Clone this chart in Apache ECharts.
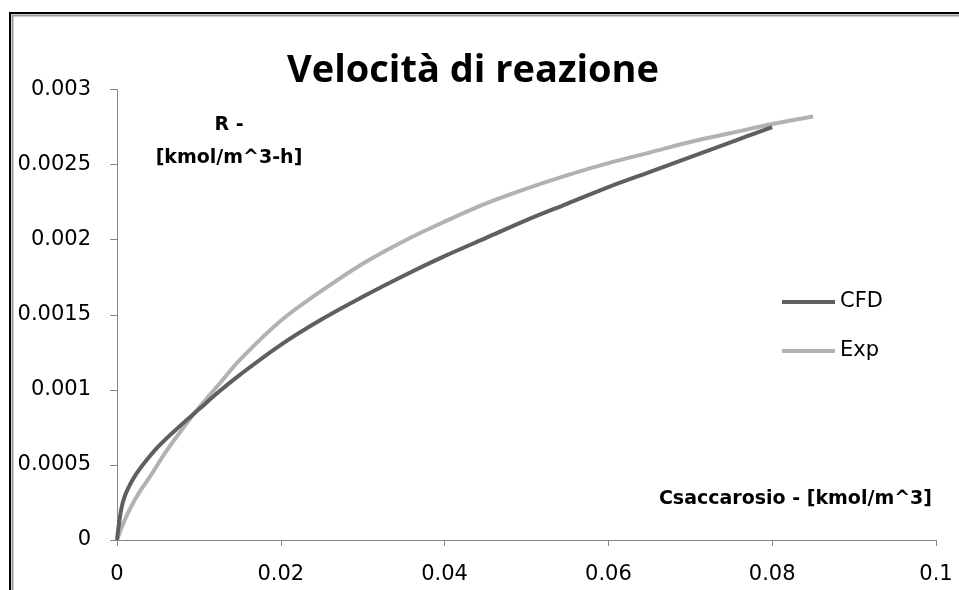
<!DOCTYPE html>
<html>
<head>
<meta charset="utf-8">
<script src="https://cdn.jsdelivr.net/npm/echarts@6/dist/echarts.min.js"></script>
<style>
html,body{margin:0;padding:0;background:#fff;}
#c{width:959px;height:590px;}
</style>
</head>
<body>
<div id="c"></div>
<script>
const titleText = 'Velocità di reazione';
const yName = ['R -', '[kmol/m^3-h]'];
const xName = 'Csaccarosio - [kmol/m^3]';
const seriesNames = ['CFD', 'Exp'];

const cfdX = [0, 0.0005, 0.001, 0.002, 0.003, 0.005, 0.0075, 0.01, 0.0125, 0.015, 0.02, 0.025, 0.03, 0.035, 0.04, 0.045, 0.05, 0.055, 0.06, 0.065, 0.07, 0.075, 0.08];
const cfdY = [0, 0.00020, 0.00030, 0.00041, 0.00049, 0.00062, 0.00075, 0.00087, 0.00099, 0.00110, 0.00130, 0.00147, 0.00162, 0.00176, 0.00189, 0.00201, 0.00213, 0.00224, 0.00235, 0.00245, 0.00255, 0.00265, 0.00275];

const expX = [0, 0.001, 0.002, 0.003, 0.004, 0.006, 0.008, 0.01, 0.0125, 0.015, 0.02, 0.025, 0.03, 0.035, 0.04, 0.045, 0.05, 0.055, 0.06, 0.065, 0.07, 0.075, 0.08, 0.085];
const expY = [0, 0.00014, 0.00025, 0.00034, 0.00042, 0.00059, 0.00074, 0.00088, 0.00104, 0.00120, 0.00146, 0.00166, 0.00184, 0.00199, 0.00212, 0.00224, 0.00234, 0.00243, 0.00251, 0.00258, 0.00265, 0.00271, 0.00277, 0.00282];

const xTicks = {min: 0, max: 0.1, interval: 0.02};
const yTicks = {min: 0, max: 0.003, interval: 0.0005};

const FONT = '"DejaVu Sans", sans-serif';
const TFONT = '"Open Sans", sans-serif';
const chart = echarts.init(document.getElementById('c'), null, {renderer: 'canvas'});

function pairs(xs, ys) { return xs.map((x, i) => [x, ys[i]]); }

chart.setOption({
  animation: false,
  backgroundColor: '#ffffff',
  title: {
    text: titleText,
    left: 282,
    top: 47,
    textStyle: {fontFamily: TFONT, fontSize: 38, fontWeight: 'bold', color: '#000'}
  },
  grid: {left: 117, right: 23, top: 89.5, bottom: 50, containLabel: false},
  legend: {
    orient: 'vertical',
    left: 777,
    top: 286,
    itemWidth: 53,
    itemHeight: 4,
    itemGap: 27,
    icon: 'rect',
    textStyle: {fontFamily: FONT, fontSize: 21, color: '#000', lineHeight: 22},
    data: seriesNames
  },
  xAxis: {
    type: 'value',
    min: xTicks.min, max: xTicks.max, interval: xTicks.interval,
    axisLine: {show: true, lineStyle: {color: '#868686', width: 1}},
    axisTick: {show: true, length: 6, lineStyle: {color: '#868686'}},
    splitLine: {show: false},
    axisLabel: {margin: 24, fontFamily: FONT, fontSize: 21, color: '#000',
      formatter: v => String(+v.toFixed(4))}
  },
  yAxis: {
    type: 'value',
    min: yTicks.min, max: yTicks.max, interval: yTicks.interval,
    axisLine: {show: true, lineStyle: {color: '#868686', width: 1}},
    axisTick: {show: true, length: 7, lineStyle: {color: '#868686'}},
    splitLine: {show: false},
    axisLabel: {margin: 26, fontFamily: FONT, fontSize: 21, color: '#000',
      formatter: v => String(+v.toFixed(5))}
  },
  graphic: [
    {type: 'rect', shape: {x: 10, y: 13, width: 1000, height: 700}, style: {fill: 'none', stroke: '#000', lineWidth: 2}, silent: true},
    {type: 'rect', shape: {x: 12.5, y: 15.5, width: 1000, height: 700}, style: {fill: 'none', stroke: '#999', lineWidth: 2}, silent: true},
    {type: 'text', x: 229, y: 116, style: {text: yName[0], fontFamily: FONT, fontSize: 19, fontWeight: 'bold', fill: '#000', textAlign: 'center'}, silent: true},
    {type: 'text', x: 229, y: 149, style: {text: yName[1], fontFamily: FONT, fontSize: 19, fontWeight: 'bold', fill: '#000', textAlign: 'center'}, silent: true},
    {type: 'text', x: 932, y: 490, style: {text: xName, fontFamily: FONT, fontSize: 19, fontWeight: 'bold', fill: '#000', textAlign: 'right'}, silent: true}
  ],
  series: [
    {name: seriesNames[0], type: 'line', data: pairs(cfdX, cfdY), smooth: 0.35, showSymbol: false,
      lineStyle: {color: '#5f5f5f', width: 4}, itemStyle: {color: '#5f5f5f'}, z: 3},
    {name: seriesNames[1], type: 'line', data: pairs(expX, expY), smooth: 0.35, showSymbol: false,
      lineStyle: {color: '#b2b2b2', width: 4}, itemStyle: {color: '#b2b2b2'}, z: 2}
  ]
});
</script>
</body>
</html>
